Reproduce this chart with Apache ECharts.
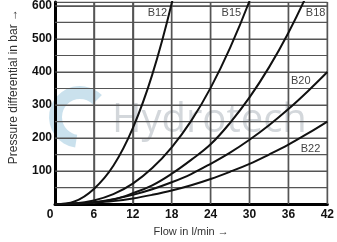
<!DOCTYPE html>
<html>
<head>
<meta charset="utf-8">
<script src="https://cdn.jsdelivr.net/npm/echarts@6/dist/echarts.min.js"></script>
<style>
html, body { margin: 0; padding: 0; background: #fff; }
#chart { width: 337px; height: 242px; }
</style>
</head>
<body>
<div id="chart"></div>
<script>
// flow in l/min
var flow = [0, 3, 6, 9, 12, 15, 18, 21, 24, 27, 30, 33, 36, 39, 42];

// pressure differential in bar
var b12 = [0, 8, 46, 116, 230, 392, 608, 880];
var b15 = [0, 2, 11, 30, 62, 109, 172, 252, 352, 473, 615, 781];
var b18 = [0, 1, 5, 14, 33, 57, 92, 134, 181, 246, 323, 414, 519, 640, 776];
var b20 = [0, 1.5, 6, 15, 28, 45, 66, 91, 122, 156, 195, 239, 288, 342, 400];
var b22 = [0, 1, 4, 9, 17, 28, 41, 57, 76, 98, 122, 150, 180, 214, 250];

// grid lines
var flowMax = 42;
var pressureMax = 612;
var flowGrid = [6, 12, 18, 24, 30, 36, 42];
var pressureGrid = [50, 100, 150, 200, 250, 300, 350, 400, 450, 500, 550, 600, 612];

// curve labels
var labelNames = ['B12', 'B15', 'B18', 'B20', 'B22'];
var labelFlow = [15.8, 27.2, 40.2, 37.9, 39.4];
var labelPressure = [580, 580, 580, 374, 167];

var curves = [b12, b15, b18, b20, b22];

var myChart = echarts.init(document.getElementById('chart'));

function pairs(values) {
    return values.map(function(v, i) {
        return [flow[i], v];
    });
}

function gridSeries(data, width) {
    return {
        type: 'line',
        symbol: 'none',
        lineStyle: { color: '#555', width: width, opacity: 1 },
        data: data
    };
}

var series = [];
flowGrid.forEach(function(v) {
    series.push(gridSeries([[v, 0], [v, pressureMax]], 1.4));
});
pressureGrid.forEach(function(v) {
    series.push(gridSeries([[0, v], [flowMax, v]], 1.2));
});

curves.forEach(function(values, i) {
    series.push({
        name: labelNames[i],
        type: 'line',
        smooth: 0.4,
        symbol: 'none',
        z: 3,
        lineStyle: { color: '#111', width: 2 },
        data: pairs(values),
        markPoint: {
            symbol: 'circle',
            symbolSize: 1,
            itemStyle: { color: 'transparent' },
            label: {
                show: true,
                position: 'inside',
                color: '#444',
                fontFamily: 'Liberation Sans',
                fontSize: 11,
                formatter: labelNames[i]
            },
            data: [{ coord: [labelFlow[i], labelPressure[i]] }]
        }
    });
});

var option = {
    animation: false,
    grid: {
        left: 49,
        right: 6,
        top: 2,
        bottom: 33
    },
    graphic: [{
        type: 'sector',
        shape: { cx: 80, cy: 117, r0: 18, r: 31, startAngle: Math.PI * 0.55, endAngle: Math.PI * 1.75 },
        style: { fill: '#b4d4e6', opacity: 0.7 }
    }, {
        type: 'text',
        style: {
            x: 112,
            y: 121,
            text: 'Hydrotech',
            font: '40px "Open Sans"',
            fill: '#d3d7db',
            verticalAlign: 'middle'
        }
    }],
    xAxis: {
        type: 'value',
        min: 0,
        max: flowMax,
        interval: 6,
        name: 'Flow in l/min \u2192',
        nameLocation: 'middle',
        nameGap: 20,
        nameTextStyle: {
            fontFamily: 'Liberation Sans',
            fontSize: 11,
            color: '#333'
        },
        axisLine: { lineStyle: { color: '#000', width: 3 } },
        axisTick: { show: false },
        axisLabel: {
            margin: 5,
            fontFamily: 'Liberation Sans',
            fontWeight: 'bold',
            fontSize: 12,
            color: '#111',
            formatter: function(v) {
                return v === 0 ? '{o|0}' : v;
            },
            rich: {
                o: {
                    padding: [0, 10, 0, 0],
                    fontFamily: 'Liberation Sans',
                    fontWeight: 'bold',
                    fontSize: 12,
                    color: '#111'
                }
            }
        },
        splitLine: { show: true, lineStyle: { color: '#555', width: 1.4 } }
    },
    yAxis: {
        type: 'value',
        min: 0,
        max: pressureMax,
        interval: 50,
        name: 'Pressure differential in bar \u2192',
        nameLocation: 'middle',
        nameGap: 35,
        nameTextStyle: {
            fontFamily: 'Liberation Sans',
            fontSize: 12,
            color: '#333',
            padding: [0, 0, 0, 33]
        },
        axisLine: { show: true, lineStyle: { color: '#000', width: 3 } },
        axisTick: { show: false },
        axisLabel: {
            margin: 3,
            fontFamily: 'Liberation Sans',
            fontWeight: 'bold',
            fontSize: 12,
            color: '#111',
            formatter: function(v) {
                return (v > 0 && v % 100 === 0) ? v : '';
            }
        },
        splitLine: { show: true, lineStyle: { color: '#555', width: 1.2 } }
    },
    series: series
};

myChart.setOption(option);
</script>
</body>
</html>
